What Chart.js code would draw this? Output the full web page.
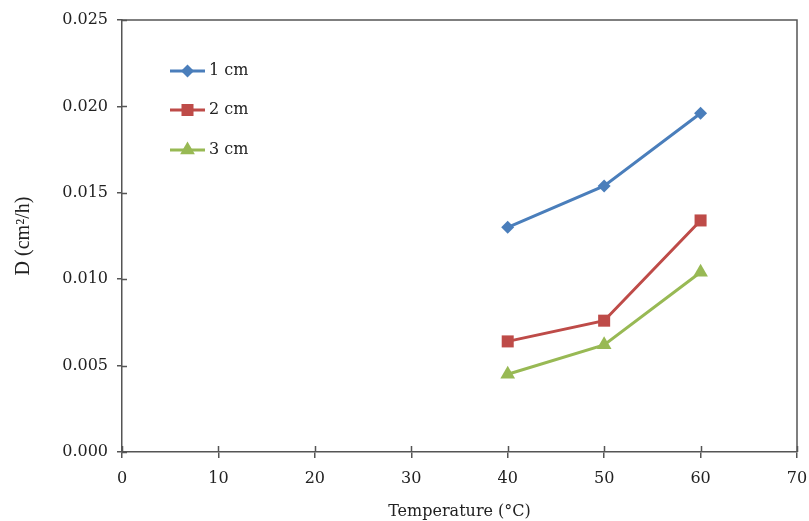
<!DOCTYPE html>
<html>
<head>
<meta charset="utf-8">
<script src="https://cdn.jsdelivr.net/npm/chart.js"></script>
<style>
html,body{margin:0;padding:0;background:#fff;}
canvas{display:block;}
</style>
</head>
<body>
<canvas id="c" width="809" height="521"></canvas>
<script>
const temperatures = [40, 50, 60];
const series1cm = [0.0130, 0.0154, 0.0196];
const series2cm = [0.0064, 0.0076, 0.0134];
const series3cm = [0.0045, 0.0062, 0.0104];
const seriesLabels = ['1 cm', '2 cm', '3 cm'];
const xTitle = 'Temperature (°C)';
const yTitle = 'D (cm²/h)';

const colors = ['#4A7EBB', '#BE4B48', '#98B954'];
const styles = ['rectRot', 'rect', 'triangle'];
const radii = [6.5, 8.5, 8.5];
const tickFont = {family: '"DejaVu Serif", "Liberation Serif", serif', size: 16};
const axisColor = '#555';

function pts(vals){ return temperatures.map((t,i)=>({x:t, y:vals[i]})); }
const allSeries = [series1cm, series2cm, series3cm];

function drawMarker(ctx, style, x, y, r, color){
  ctx.save();
  ctx.fillStyle = color;
  ctx.beginPath();
  if (style === 'rectRot') {
    ctx.moveTo(x, y - r); ctx.lineTo(x + r, y); ctx.lineTo(x, y + r); ctx.lineTo(x - r, y);
  } else if (style === 'rect') {
    const s = Math.SQRT1_2 * r;
    ctx.rect(x - s, y - s, 2*s, 2*s);
  } else {
    let a = 0;
    ctx.moveTo(x + Math.sin(a)*r, y - Math.cos(a)*r);
    a += 2*Math.PI/3; ctx.lineTo(x + Math.sin(a)*r, y - Math.cos(a)*r);
    a += 2*Math.PI/3; ctx.lineTo(x + Math.sin(a)*r, y - Math.cos(a)*r);
  }
  ctx.closePath();
  ctx.fill();
  ctx.restore();
}

const framePlugin = {
  id: 'frame',
  afterDraw(chart){
    const {ctx, chartArea: a, scales} = chart;
    ctx.save();
    ctx.strokeStyle = axisColor;
    ctx.lineWidth = 1.5;
    ctx.beginPath();
    ctx.moveTo(a.left, a.top); ctx.lineTo(a.right, a.top); ctx.lineTo(a.right, a.bottom);
    ctx.stroke();
    ctx.beginPath();
    scales.y.ticks.forEach(t => {
      const py = Math.round(scales.y.getPixelForValue(t.value)) + 0.5;
      ctx.moveTo(a.left, py); ctx.lineTo(a.left + 5, py);
    });
    scales.x.ticks.forEach(t => {
      const px = Math.round(scales.x.getPixelForValue(t.value)) + 0.5;
      ctx.moveTo(px, a.bottom); ctx.lineTo(px, a.bottom - 6);
    });
    ctx.stroke();
    ctx.restore();
    const rows = [71, 110, 150];
    chart.data.datasets.forEach((ds, i) => {
      const y = rows[i];
      const x0 = a.left + 48, x1 = a.left + 83;
      ctx.save();
      ctx.strokeStyle = ds.borderColor;
      ctx.lineWidth = 3;
      ctx.beginPath(); ctx.moveTo(x0, y); ctx.lineTo(x1, y); ctx.stroke();
      drawMarker(ctx, styles[i], (x0 + x1)/2, y, radii[i], ds.backgroundColor);
      ctx.fillStyle = '#222';
      ctx.font = '16px "DejaVu Serif", "Liberation Serif", serif';
      ctx.textBaseline = 'middle';
      ctx.fillText(ds.label, x1 + 4, y);
      ctx.restore();
    });
  }
};

new Chart(document.getElementById('c'), {
  type: 'line',
  data: {
    datasets: allSeries.map((vals, i) => ({
      label: seriesLabels[i],
      data: pts(vals),
      borderColor: colors[i],
      backgroundColor: colors[i],
      borderWidth: 3,
      pointStyle: styles[i],
      pointRadius: radii[i],
      pointHoverRadius: radii[i],
      pointBorderWidth: 0,
      tension: 0,
      fill: false
    }))
  },
  options: {
    responsive: false,
    animation: false,
    events: [],
    layout: {padding: {left: 0, right: 0, top: 20, bottom: 0}},
    plugins: {legend: {display: false}, tooltip: {enabled: false}},
    scales: {
      x: {
        type: 'linear',
        min: 0, max: 70,
        ticks: {stepSize: 10, color: '#222', font: tickFont, padding: 11, maxRotation: 0},
        grid: {drawOnChartArea: false, tickLength: 6, color: axisColor, lineWidth: 1.5},
        border: {color: axisColor, width: 1.5},
        title: {display: true, text: xTitle, color: '#222', font: {family: '"DejaVu Serif", "Liberation Serif", serif', size: 16}, padding: {top: 0, bottom: 0}},
        afterFit(s){ s.height = 69; s.paddingLeft = 0; s.paddingRight = 12; }
      },
      y: {
        type: 'linear',
        min: 0, max: 0.025,
        ticks: {stepSize: 0.005, color: '#222', font: tickFont, padding: 9, callback: v => Number(v).toFixed(3)},
        grid: {drawOnChartArea: false, tickLength: 5, color: axisColor, lineWidth: 1.5},
        border: {color: axisColor, width: 1.5},
        title: {display: true, text: yTitle, color: '#222', font: {family: '"Liberation Serif", serif', size: 20}, padding: {top: 12, bottom: 0}},
        afterFit(s){ s.width = 122; }
      }
    }
  },
  plugins: [framePlugin]
});
</script>
</body>
</html>
